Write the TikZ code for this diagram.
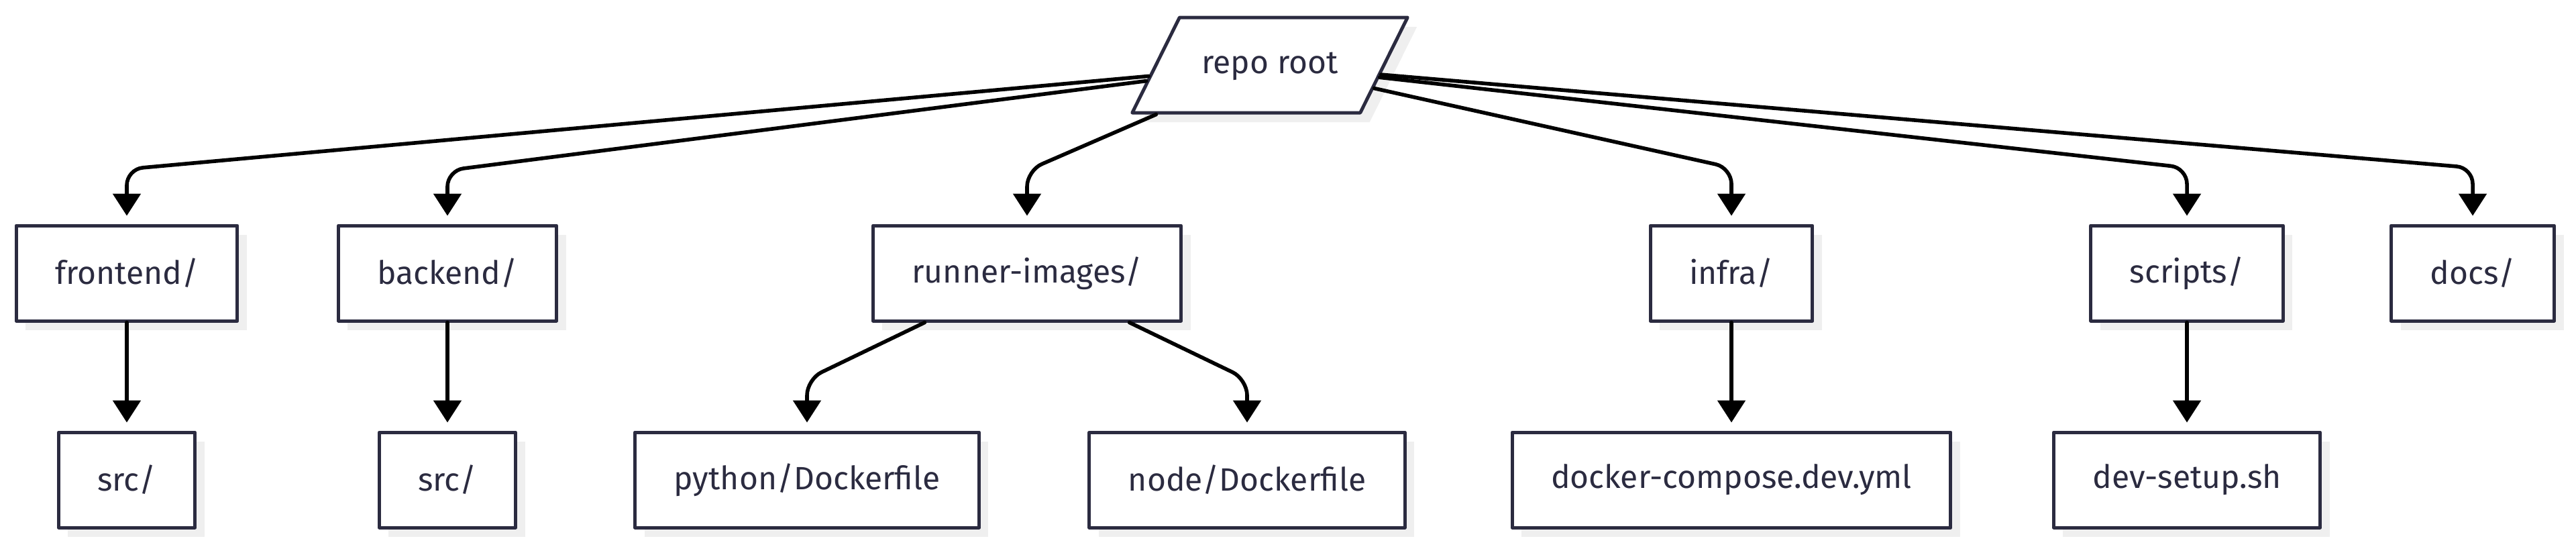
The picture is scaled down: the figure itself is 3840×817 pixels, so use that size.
\documentclass[tikz,border=0pt]{standalone}
\usepackage{fontspec}
\setmainfont{Fira Sans}
\usetikzlibrary{arrows.meta,shapes.geometric,shadows}
\definecolor{inkline}{HTML}{2B2B40}
\definecolor{shade}{HTML}{EFEFEF}
\begin{document}
\begin{tikzpicture}[line cap=round,line join=round,x=0.25pt,y=-0.25pt,
  folder/.style={draw=inkline,line width=1.25pt,fill=white,text=inkline,
    font=\fontsize{12}{14}\selectfont,minimum height=35.5pt,inner xsep=14.5pt,
    drop shadow={shadow xshift=3.5pt,shadow yshift=-3.5pt,fill=shade,opacity=1}},
  rootbox/.style={folder,trapezium,trapezium left angle=63.6,trapezium right angle=116.4,
    trapezium stretches=true,text height=8.5pt,text depth=2.5pt,inner ysep=12.25pt,inner xsep=8.3pt},
  link/.style={line width=1.4pt,-{Triangle[length=8.25pt,width=10.25pt]},shorten >=3pt,rounded corners=6pt}]
\useasboundingbox (0,0) rectangle (3840,817);
\node[rootbox] (root) at (1893,97) {repo root};
\node[folder] (front) at (189,407) {frontend/};
\node[folder] (back) at (667,407) {backend/};
\node[folder] (runner) at (1531,407) {runner-images/};
\node[folder] (infra) at (2581,407) {infra/};
\node[folder] (scripts) at (3260,407) {scripts/};
\node[folder] (docs) at (3686,407) {docs/};
\node[folder] (frontsrc) at (189,715) {src/};
\node[folder] (backsrc) at (667,715) {src/};
\node[folder] (pydock) at (1203,715) {python/Dockerfile};
\node[folder] (nodedock) at (1859,715) {node/Dockerfile};
\node[folder] (compose) at (2581,715) {docker-compose.dev.yml};
\node[folder] (devsetup) at (3260,715) {dev-setup.sh};
% root to first level
\draw[link] (root) -- (189,252) -- (front);
\draw[link] (root) -- (667,254) -- (back);
\draw[link] (root) -- (1531,254) -- (runner);
\draw[link] (root) -- (2581,250) -- (infra);
\draw[link] (root) -- (3260,250) -- (scripts);
\draw[link] (root) -- (3686,250) -- (docs);
% second level
\draw[link] (front) -- (frontsrc);
\draw[link] (back) -- (backsrc);
\draw[link] (runner) -- (1203,565) -- (pydock);
\draw[link] (runner) -- (1859,565) -- (nodedock);
\draw[link] (infra) -- (compose);
\draw[link] (scripts) -- (devsetup);
\end{tikzpicture}
\end{document}
